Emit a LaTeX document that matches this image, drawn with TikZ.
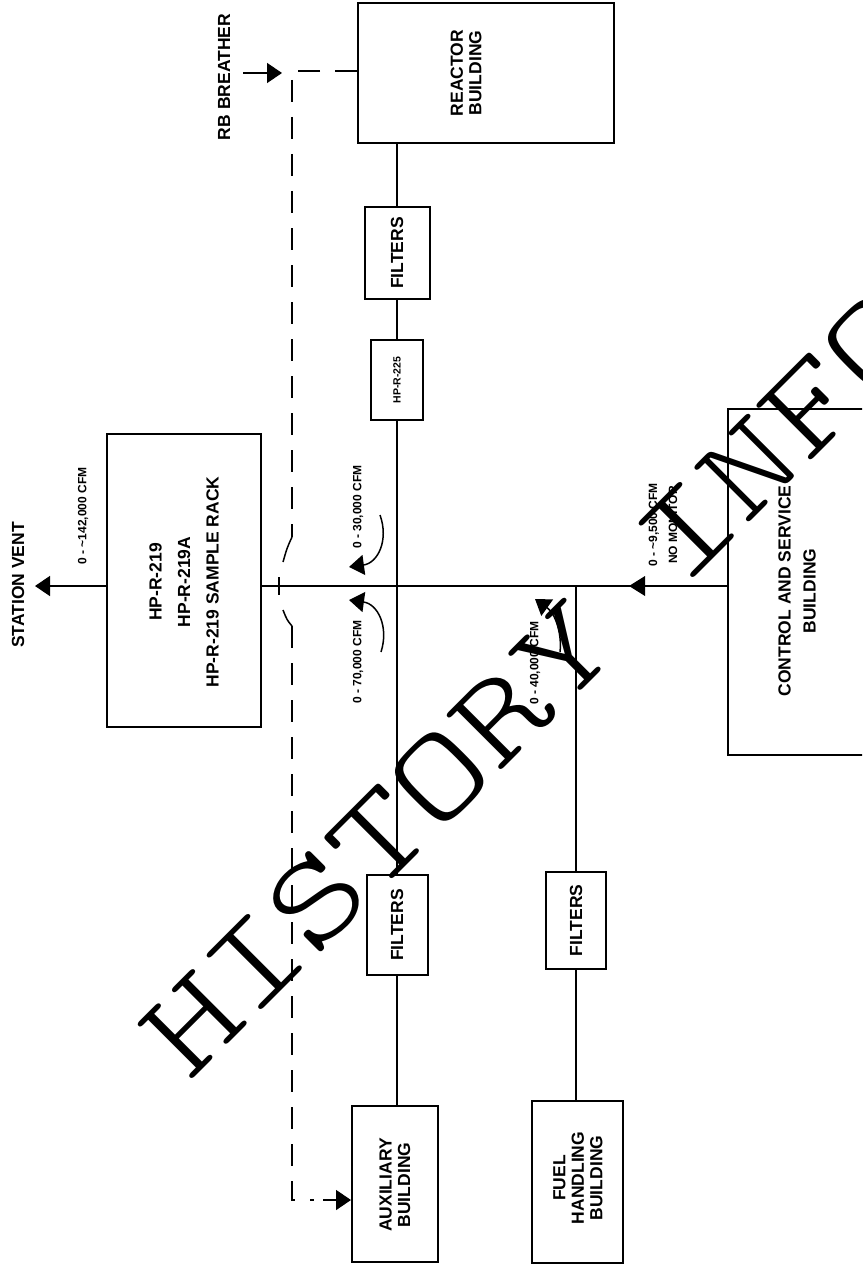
\documentclass[tikz,border=0pt]{standalone}
\usepackage{fontspec}
\setmainfont{Liberation Sans}
\newfontfamily\wmfont[FakeStretch=1.3]{Latin Modern Mono Light}
\usetikzlibrary{arrows.meta}
\begin{document}
\begin{tikzpicture}[x=1pt,y=-1pt,
  box/.style={draw, line width=2pt, inner sep=0pt},
  lbl/.style={rotate=90, font=\bfseries\fontsize{17.5}{18.5}\selectfont, align=center, inner sep=0pt},
  smalllbl/.style={rotate=90, font=\bfseries\fontsize{12}{20}\selectfont, align=center, inner sep=0pt},
  pipe/.style={line width=1.5pt},
  duct/.style={line width=1.8pt, dash pattern=on 22pt off 15pt},
  tri/.style={-{Triangle[length=15pt,width=20pt]}},
  wm/.style={rotate=45, anchor=base, inner sep=0pt, font=\wmfont\fontsize{128}{128}\selectfont}
]
\useasboundingbox (0,0) rectangle (862,1268);
\fill[white] (0,0) rectangle (862,1268);
\clip (0,0) rectangle (862,1268);

% boxes
\node[box, minimum width=256pt, minimum height=140pt] (reactor) at (486,73) {};
\node[box, minimum width=65pt, minimum height=92pt] (filt1) at (397,253) {};
\node[box, minimum width=52pt, minimum height=80pt] (hp225) at (397,380) {};
\node[box, minimum width=154pt, minimum height=293pt] (hp219) at (184,580.5) {};
\node[box, minimum width=61pt, minimum height=100pt] (filt2) at (397,925) {};
\node[box, minimum width=86pt, minimum height=156pt] (aux) at (395,1184) {};
\node[box, minimum width=60pt, minimum height=97pt] (filt3) at (576,920.5) {};
\node[box, minimum width=91pt, minimum height=162pt] (fuel) at (577.5,1182) {};
\node[box, minimum width=170pt, minimum height=346pt] (ctrl) at (813,582) {};

% box texts
\node[lbl] (treactor) at (466,73) {REACTOR\\BUILDING};
\node[lbl] (tfilt1) at (filt1) {FILTERS};
\node[smalllbl, font=\bfseries\fontsize{10.5}{12}\selectfont] (thp225) at (hp225) {HP-R-225};
\node[lbl, font=\bfseries\fontsize{17.5}{28.5}\selectfont] (thp219) at (184,582) {HP-R-219\\HP-R-219A\\HP-R-219 SAMPLE RACK};
\node[lbl] (tfilt2) at (filt2) {FILTERS};
\node[lbl] (taux) at (395,1185) {AUXILIARY\\BUILDING};
\node[lbl] (tfilt3) at (filt3) {FILTERS};
\node[lbl] (tfuel) at (578,1178) {FUEL\\HANDLING\\BUILDING};
\node[lbl, font=\bfseries\fontsize{17.5}{25}\selectfont] (tctrl) at (797,591) {CONTROL AND SERVICE\\BUILDING};

% free labels
\node[lbl] (tvent) at (18,585) {STATION VENT};
\node[lbl] (trb) at (224,77) {RB BREATHER};
\node[smalllbl] (f142) at (83,516) {0 - \textasciitilde 142,000 CFM};
\node[smalllbl] (f30) at (358,507) {0 - 30,000 CFM};
\node[smalllbl] (f70) at (358,662) {0 - 70,000 CFM};
\node[smalllbl] (f40) at (535,663) {0 - 40,000 CFM};
\node[smalllbl] (f25) at (663,525) {0 - \textasciitilde 9,500 CFM\\NO MONITOR};

% junctions
\coordinate (j1) at (397,586);
\coordinate (j2) at (576,586);
\coordinate (sv) at (35,586);

% main line
\draw[pipe] (hp219.east |- j1) -- (j1) -- (j2) -- (ctrl.west |- j2);
\draw[pipe, tri] (hp219.west |- sv) -- (sv);

% reactor / auxiliary branch
\draw[pipe] (j1 |- reactor.south) -- (filt1.north);
\draw[pipe] (filt1.south) -- (hp225.north);
\draw[pipe] (hp225.south) -- (j1) -- (filt2.north);
\draw[pipe] (filt2.south) -- (aux.north -| j1);

% fuel handling branch
\draw[pipe] (j2) -- (filt3.north);
\draw[pipe] (filt3.south) -- (fuel.north -| j2);

% flow indicator on main line (control building)
\fill (629,586) -- (645,576) -- (645,596) -- cycle;

% curved flow arrows
\draw[pipe, tri] (380,515) .. controls (389,540) and (378,563) .. (349,567);
\draw[pipe, tri] (381,652) .. controls (389,627) and (378,604) .. (349,600);
\draw[pipe, tri] (560,652) .. controls (562,635) and (556,614) .. (535,599);

% RB breather
\coordinate (rbs) at (243,73);
\coordinate (rbe) at (282,73);
\draw[pipe, tri] (rbs) -- (rbe);

% dashed duct
\coordinate (d1) at (292,71);
\coordinate (hopa) at (292,537);
\coordinate (hopb) at (292,626);
\coordinate (d2) at (292,1200);
\coordinate (d3) at (314,1200);
\draw[duct] (reactor.west |- d1) -- (d1) -- (hopa);
\draw[pipe] (hopa) .. controls (287,548) .. (283,562);
\draw[pipe] (283,610) .. controls (287,620) .. (hopb);
\draw[pipe] (279,577) -- (279,595);
\draw[duct] (hopb) -- (d2) -- (d3);
\coordinate (aa) at (323,1200);
\draw[pipe, tri] (aa) -- (aux.west |- d2);

% watermark
\node[wm] (wmark) at (560.5,711.5) {HISTORY INFO};
\end{tikzpicture}
\end{document}
